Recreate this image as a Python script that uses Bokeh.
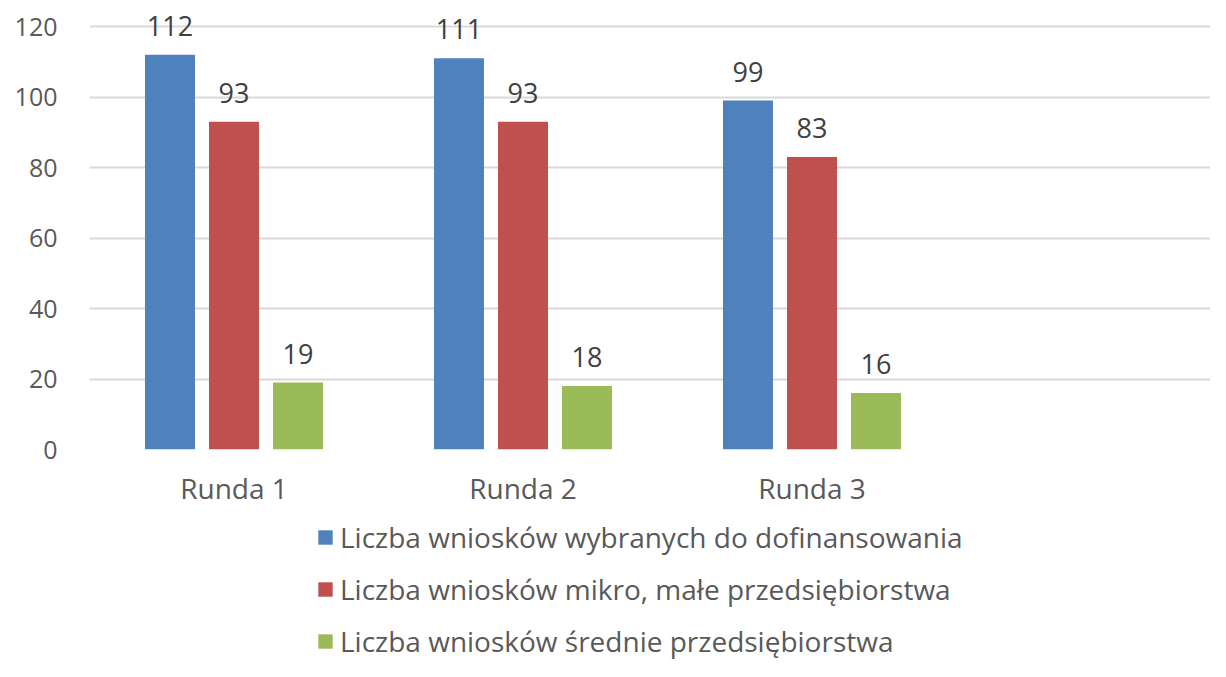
from bokeh.plotting import figure
from bokeh.layouts import column
from bokeh.models import ColumnDataSource, LabelSet, Legend, LegendItem, FixedTicker, Range1d
from bokeh.core.properties import value
from bokeh.embed import file_html
from bokeh.resources import INLINE

categories = ["Runda 1", "Runda 2", "Runda 3"]
series_names = [
    "Liczba wniosków wybranych do dofinansowania",
    "Liczba wniosków mikro, małe przedsiębiorstwa",
    "Liczba wniosków średnie przedsiębiorstwa",
]
wybrane = [112, 111, 99]
mikro_male = [93, 93, 83]
srednie = [19, 18, 16]
y_ticks = [0, 20, 40, 60, 80, 100, 120]

colors = ["#4F81BD", "#C0504D", "#9BBB59"]
series_values = [wybrane, mikro_male, srednie]
offsets = [-0.2215, 0.0, 0.2215]
bar_w = 0.173
FONT = "Open Sans"

p = figure(width=1210, height=515, output_backend="svg", toolbar_location=None,
           x_range=Range1d(0, 3.879), y_range=Range1d(0, 127.4),
           min_border_left=89, min_border_right=0, min_border_top=0, min_border_bottom=66)
p.outline_line_color = None

centers = [i + 0.5 for i in range(len(categories))]
for name, vals, col, off in zip(series_names, series_values, colors, offsets):
    src = ColumnDataSource(dict(x=[c + off for c in centers], top=vals,
                                lab=[str(v) for v in vals]))
    p.vbar(x="x", top="top", width=bar_w, bottom=0, source=src,
           fill_color=col, line_color=None)
    p.add_layout(LabelSet(x="x", y="top", text="lab", source=src, y_offset=19,
                          text_align="center", text_baseline="alphabetic",
                          text_font=value(FONT), text_font_size=value("27px"),
                          text_color="#404040"))

p.yaxis.ticker = FixedTicker(ticks=y_ticks)
p.yaxis.axis_line_color = None
p.yaxis.major_tick_line_color = None
p.yaxis.minor_tick_line_color = None
p.yaxis.major_label_standoff = 26
p.yaxis.major_label_text_font = FONT
p.yaxis.major_label_text_font_size = "25px"
p.yaxis.major_label_text_color = "#595959"

p.xaxis.ticker = FixedTicker(ticks=centers)
p.xaxis.major_label_overrides = {c: lab for c, lab in zip(centers, categories)}
p.xaxis.axis_line_color = None
p.xaxis.major_tick_line_color = None
p.xaxis.minor_tick_line_color = None
p.xaxis.major_label_standoff = 13
p.xaxis.major_label_text_font = FONT
p.xaxis.major_label_text_font_size = "28px"
p.xaxis.major_label_text_color = "#595959"

p.xgrid.grid_line_color = None
p.ygrid.ticker = FixedTicker(ticks=y_ticks)
p.ygrid.grid_line_color = "#D9D9D9"
p.ygrid.grid_line_width = 2

# legend panel below the chart (its frame is aligned with the chart's frame)
lg = figure(width=1210, height=146, output_backend="svg", toolbar_location=None,
            x_range=Range1d(0, 1), y_range=Range1d(0, 1),
            x_axis_location=None, y_axis_location=None,
            min_border_left=89, min_border_right=0, min_border_top=0, min_border_bottom=0)
lg.outline_line_color = None
lg.grid.grid_line_color = None
items = []
for name, col in zip(series_names, colors):
    # legend swatch source: a bar kept outside the visible range
    r = lg.vbar(x=[5], top=[1], bottom=[0], width=0.1, fill_color=col, line_color=None)
    items.append(LegendItem(label=name, renderers=[r]))
legend = Legend(items=items, orientation="vertical", location=(227, 1),
                label_text_font=FONT, label_text_font_size="28px", label_text_color="#595959",
                glyph_width=18, glyph_height=18, label_standoff=6, spacing=14, label_height=38,
                border_line_color=None, background_fill_alpha=0, padding=0, margin=0)
lg.add_layout(legend, "center")

layout = column(p, lg, spacing=0)
open("out.html", "w").write(file_html(layout, INLINE))
